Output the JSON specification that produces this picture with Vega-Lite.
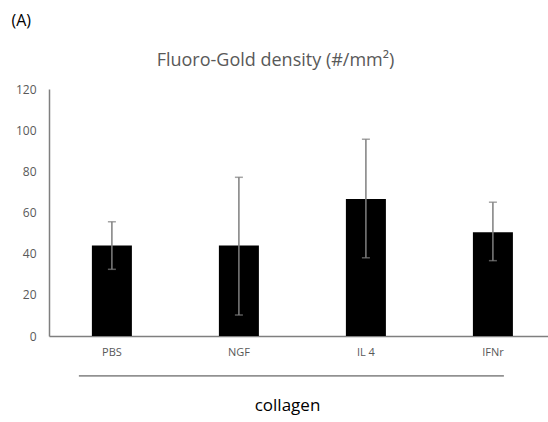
{
  "$schema": "https://vega.github.io/schema/vega-lite/v6.json",
  "width": 499,
  "height": 247,
  "autosize": "none",
  "padding": {"left": 49, "top": 89, "right": 0, "bottom": 86},
  "background": "white",
  "config": {"view": {"stroke": null}, "font": "Open Sans"},
  "title": {"text": "(A)", "fontSize": 16, "font": "Open Sans", "fontWeight": "normal", "color": "black", "anchor": "start", "frame": "bounds", "dx": -4, "offset": 22},
  "data": {"values": [
    {"group": "PBS", "mean": 44, "low": 32.4, "high": 55.5},
    {"group": "NGF", "mean": 44, "low": 10.2, "high": 77.1},
    {"group": "IL 4", "mean": 66.6, "low": 38, "high": 95.6},
    {"group": "IFNr", "mean": 50.4, "low": 36.6, "high": 65}
  ]},
  "encoding": {
    "x": {"field": "group", "type": "nominal", "sort": null,
      "scale": {"paddingInner": 0.685, "paddingOuter": 0.307, "align": 0.55},
      "axis": {"labelAngle": 0, "ticks": false, "domainColor": "#7f7f7f", "domainWidth": 1.5, "labelColor": "#595959", "labelFontSize": 11, "labelPadding": 10, "title": "collagen", "titleFontSize": 17, "titleColor": "black", "titleFontWeight": "normal", "titlePadding": 40, "titleX": 238}}
  },
  "layer": [
    {"mark": {"type": "bar", "color": "black"},
     "encoding": {"y": {"field": "mean", "type": "quantitative", "scale": {"domain": [0, 120]},
       "axis": {"values": [0, 20, 40, 60, 80, 100, 120], "grid": false, "ticks": false, "domainColor": "#7f7f7f", "domainWidth": 1.5, "labelColor": "#595959", "labelFontSize": 12, "labelPadding": 13, "title": "Fluoro-Gold density (#/mm²)", "titleAngle": 0, "titleX": 226, "titleY": -29, "titleAlign": "center", "titleBaseline": "middle", "titleFontSize": 18, "titleFontWeight": "normal", "titleColor": "#595959"}}}},
    {"mark": {"type": "rule", "color": "#7f7f7f", "strokeWidth": 1.5},
     "encoding": {"y": {"field": "low", "type": "quantitative"}, "y2": {"field": "high"}}},
    {"mark": {"type": "tick", "orient": "horizontal", "size": 8, "thickness": 1.5, "color": "#7f7f7f"},
     "encoding": {"y": {"field": "high", "type": "quantitative"}}},
    {"mark": {"type": "tick", "orient": "horizontal", "size": 8, "thickness": 1.5, "color": "#7f7f7f"},
     "encoding": {"y": {"field": "low", "type": "quantitative"}}},
    {"data": {"values": [{"a": 1}]},
     "mark": {"type": "rule", "color": "#404040", "strokeWidth": 1, "x2Offset": 11},
     "encoding": {"x": {"datum": "PBS", "bandPosition": -0.325}, "x2": {"datum": "IFNr"}, "y": {"datum": -19.4}}}
  ]
}
